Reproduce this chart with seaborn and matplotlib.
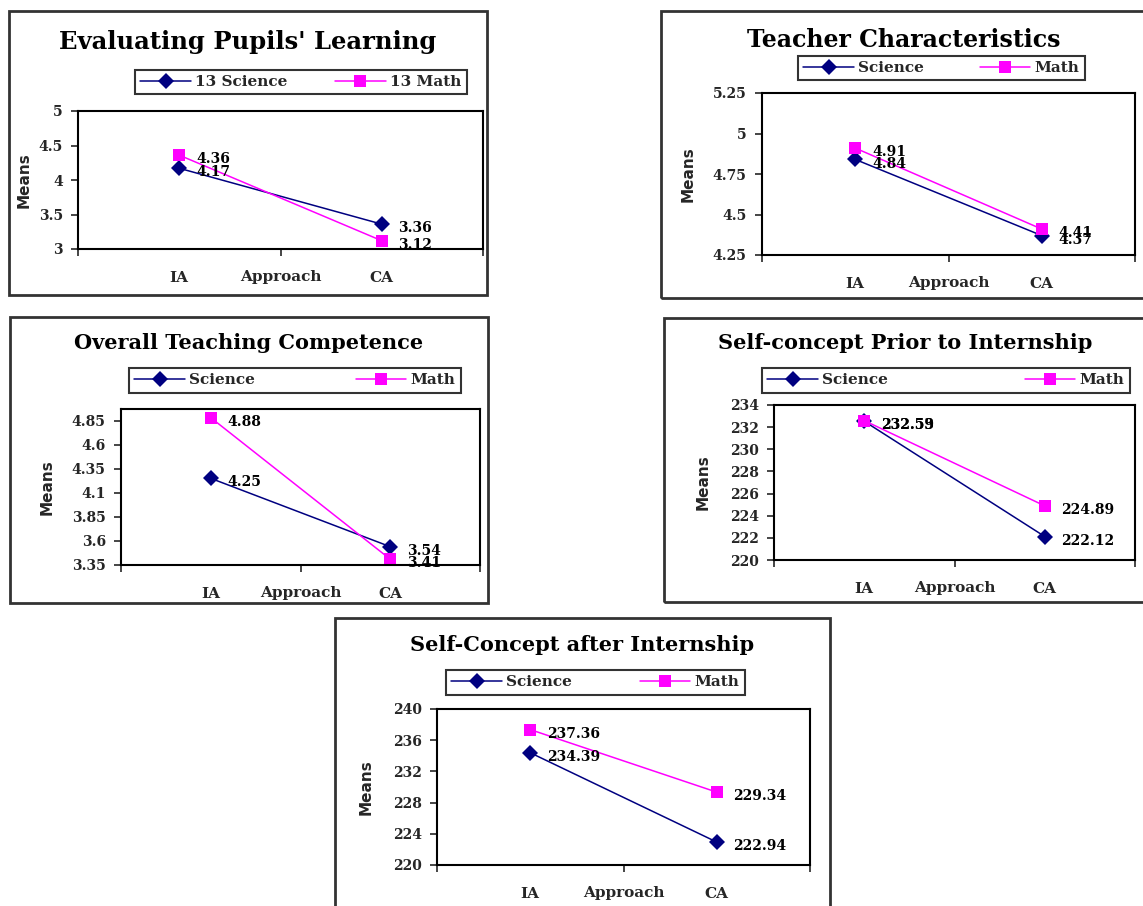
import numpy as np
import pandas as pd
import seaborn as sns
import matplotlib
matplotlib.use("Agg")
from matplotlib import pyplot as plt
from matplotlib.patches import Rectangle

# data
categories = ["IA", "CA"]

eval_science = [4.17, 3.36]
eval_math = [4.36, 3.12]
eval_ticks = [3, 3.5, 4, 4.5, 5]

teacher_science = [4.84, 4.37]
teacher_math = [4.91, 4.41]
teacher_ticks = [4.25, 4.5, 4.75, 5, 5.25]

overall_science = [4.25, 3.54]
overall_math = [4.88, 3.41]
overall_ticks = [3.35, 3.6, 3.85, 4.1, 4.35, 4.6, 4.85]

prior_science = [232.53, 222.12]
prior_math = [232.59, 224.89]
prior_ticks = [220, 222, 224, 226, 228, 230, 232, 234]

after_science = [234.39, 222.94]
after_math = [237.36, 229.34]
after_ticks = [220, 224, 228, 232, 236, 240]

colors = ["#000080", "#FF00FF"]
W, H = 1143, 906


def frac(x0, y0, x1, y1):
    return [x0 / W, 1 - y1 / H, (x1 - x0) / W, (y1 - y0) / H]


panels = [
    dict(title="Evaluating Pupils' Learning", groups=["13 Science", "13 Math"],
         values=[eval_science, eval_math], ticks=eval_ticks, ylim=(3, 5),
         box=(9, 11, 487, 295), area=(78, 111, 483, 249), legend=(135, 69, 467, 95),
         title_y=42, title_size=17.5, ylab=54),
    dict(title="Teacher Characteristics", groups=["Science", "Math"],
         values=[teacher_science, teacher_math], ticks=teacher_ticks, ylim=(4.25, 5.25),
         box=(661, 11, 1146, 298), area=(762, 93, 1135, 255), legend=(798, 57, 1085, 79),
         title_y=40, title_size=17, ylab=74),
    dict(title="Overall Teaching Competence", groups=["Science", "Math"],
         values=[overall_science, overall_math], ticks=overall_ticks, ylim=(3.35, 4.97),
         box=(10, 317, 488, 603), area=(121, 409, 480, 565), legend=(129, 367, 461, 394),
         title_y=343, title_size=15, ylab=74),
    dict(title="Self-concept Prior to Internship", groups=["Science", "Math"],
         values=[prior_science, prior_math], ticks=prior_ticks, ylim=(220, 234),
         box=(664, 318, 1146, 602), area=(774, 405, 1135, 560), legend=(762, 367, 1130, 394),
         title_y=343, title_size=15, ylab=71),
    dict(title="Self-Concept after Internship", groups=["Science", "Math"],
         values=[after_science, after_math], ticks=after_ticks, ylim=(220, 240),
         box=(335, 618, 830, 912), area=(437, 709, 810, 865), legend=(446, 671, 745, 694),
         title_y=645, title_size=15, ylab=71),
]

sns.set_theme(style="white")
plt.rcParams["font.family"] = ["DejaVu Serif"]

fig = plt.figure(figsize=(W / 100, H / 100), dpi=100)
fig.patch.set_facecolor("white")

serif = dict(family="DejaVu Serif", weight="bold")

for p in panels:
    x0, y0, x1, y1 = p["box"]
    fig.add_artist(Rectangle((x0 / W, 1 - y1 / H), (x1 - x0) / W, (y1 - y0) / H,
                             transform=fig.transFigure, fill=False,
                             edgecolor="#333333", linewidth=2))
    fig.text(((x0 + x1) / 2) / W, 1 - p["title_y"] / H, p["title"],
             ha="center", va="center", fontsize=p["title_size"], color="black", **serif)

    ax = fig.add_axes(frac(*p["area"]))
    df = pd.DataFrame({
        "Approach": categories * 2,
        "Mean": p["values"][0] + p["values"][1],
        "Group": [p["groups"][0]] * 2 + [p["groups"][1]] * 2,
    })
    sns.lineplot(data=df, x="Approach", y="Mean", hue="Group", style="Group",
                 markers=["D", "s"], dashes=False, palette=colors, sort=False,
                 linewidth=1.1, markersize=8.5, markeredgewidth=0, ax=ax)

    for vals in p["values"]:
        for i, v in enumerate(vals):
            ax.annotate(f"{v:.2f}", (i, v), xytext=(12, -3), textcoords="offset points",
                        ha="left", va="center", fontsize=10, color="black", **serif)

    handles, labels = ax.get_legend_handles_labels()
    ax.get_legend().remove()
    lx0, ly0, lx1, ly1 = p["legend"]
    leg = ax.legend(handles, labels, loc="center", ncol=2, mode="expand",
                    bbox_to_anchor=(lx0 / W, 1 - ly1 / H, (lx1 - lx0) / W, (ly1 - ly0) / H),
                    bbox_transform=fig.transFigure, frameon=True, fancybox=False,
                    edgecolor="black", handlelength=3.3, borderpad=0.35,
                    borderaxespad=0, handletextpad=0.3, prop=dict(size=11, **serif))
    leg.get_frame().set_linewidth(1.5)

    ax.set_ylim(*p["ylim"])
    ax.set_yticks(p["ticks"])
    ax.set_yticklabels([f"{t:g}" for t in p["ticks"]], fontsize=10, **serif)
    ax.tick_params(axis="y", direction="out", length=5, width=1.2, pad=6, left=True)

    ax.set_xlim(-0.5, len(categories) - 0.5)
    ax.set_xticks(range(len(categories)))
    ax.set_xticklabels(categories, fontsize=11, **serif)
    ax.set_xticks(np.arange(-0.5, len(categories), 1.0), minor=True)
    ax.xaxis.remove_overlapping_locs = False
    ax.tick_params(axis="x", which="major", length=0, pad=16)
    ax.tick_params(axis="x", which="minor", direction="out", length=5, width=1.2, bottom=True)

    area_w = p["area"][2] - p["area"][0]
    area_h = p["area"][3] - p["area"][1]
    ax.set_xlabel("Approach", fontsize=11, **serif)
    ax.xaxis.set_label_coords(0.5, -28 / area_h)
    ax.xaxis.label.set_va("center")
    ax.set_ylabel("Means", fontsize=11, fontweight="bold", family="DejaVu Sans")
    ax.yaxis.set_label_coords(-p["ylab"] / area_w, 0.5)
    ax.yaxis.label.set_va("center")

    for s in ax.spines.values():
        s.set_color("black")
        s.set_linewidth(1.5)
    ax.grid(False)

fig.savefig("out.png", dpi=100, facecolor="white")
